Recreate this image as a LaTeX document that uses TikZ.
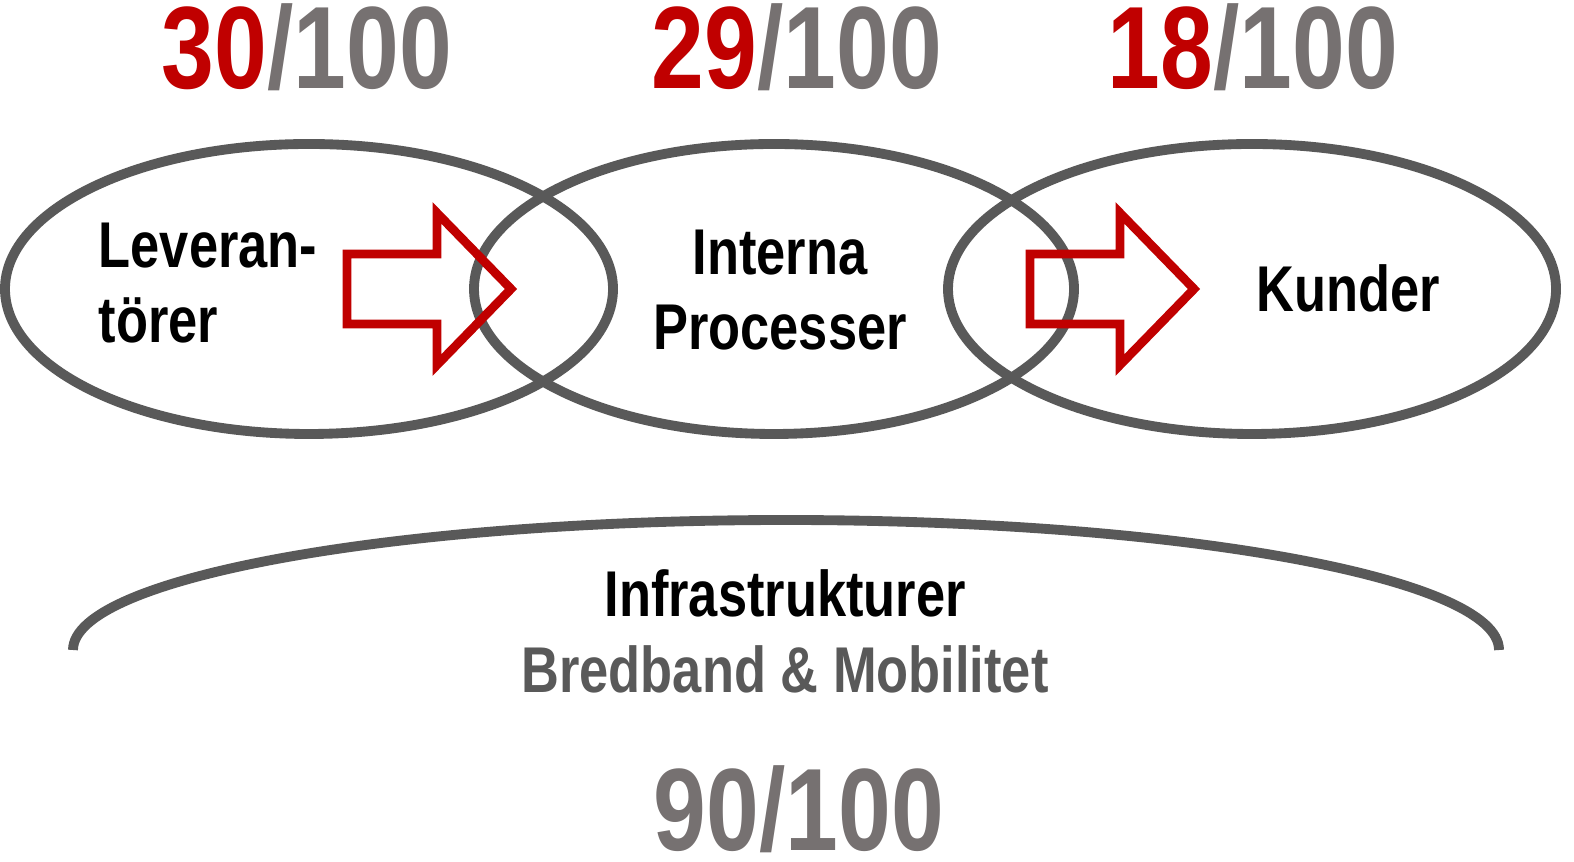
\documentclass[tikz,border=0pt]{standalone}
\usepackage{fontspec}
\setmainfont{Liberation Sans}[FakeStretch=0.81]
\definecolor{accred}{HTML}{C00000}
\definecolor{numgray}{HTML}{767171}
\definecolor{ringgray}{HTML}{595959}
\tikzset{
  ring/.style={draw=ringgray, line width=2.8pt},
  blockarrow/.style={draw=accred, line width=2.5pt, line join=miter},
  score/.style={inner sep=0pt, anchor=base, font=\fontsize{33.3}{40}\selectfont\bfseries},
  label/.style={inner sep=0pt, anchor=base, font=\fontsize{18.4}{22}\selectfont\bfseries},
}
\begin{document}
\begin{tikzpicture}[x=0.01cm, y=0.01cm]
\useasboundingbox (0,0) rectangle (1574,-862);
% ellipses
\draw[ring] (309,-289) ellipse [x radius=304, y radius=145];
\draw[ring] (774,-289) ellipse [x radius=300, y radius=145];
\draw[ring] (1252,-289) ellipse [x radius=304, y radius=145];
% bottom arc
\draw[ring] (73,-650) arc [start angle=180, end angle=0, x radius=713, y radius=130];
% arrows
\draw[blockarrow] (347,-254) -- (437,-254) -- (437,-213) -- (511,-289) -- (437,-365) -- (437,-324) -- (347,-324) -- cycle;
\draw[blockarrow] (1030,-254) -- (1120,-254) -- (1120,-213) -- (1194,-289) -- (1120,-365) -- (1120,-324) -- (1030,-324) -- cycle;
% scores
\node[score] (s1) at (307,-89) {\textcolor{accred}{30}\textcolor{numgray}{/100}};
\node[score] (s2) at (797,-89) {\textcolor{accred}{29}\textcolor{numgray}{/100}};
\node[score] (s3) at (1253,-89) {\textcolor{accred}{18}\textcolor{numgray}{/100}};
\node[score, text=numgray] (s4) at (799,-850) {90/100};
% labels
\node[label, anchor=base west] (l1a) at (98,-268) {Leveran-};
\node[label, anchor=base west] (l1b) at (98,-343) {törer};
\node[label] (l2a) at (780,-275) {Interna};
\node[label] (l2b) at (780,-350) {Processer};
\node[label] (l3) at (1348,-312) {Kunder};
\node[label] (l4a) at (785,-617) {Infrastrukturer};
\node[label, text=ringgray] (l4b) at (785,-693) {Bredband \& Mobilitet};
\end{tikzpicture}
\end{document}
